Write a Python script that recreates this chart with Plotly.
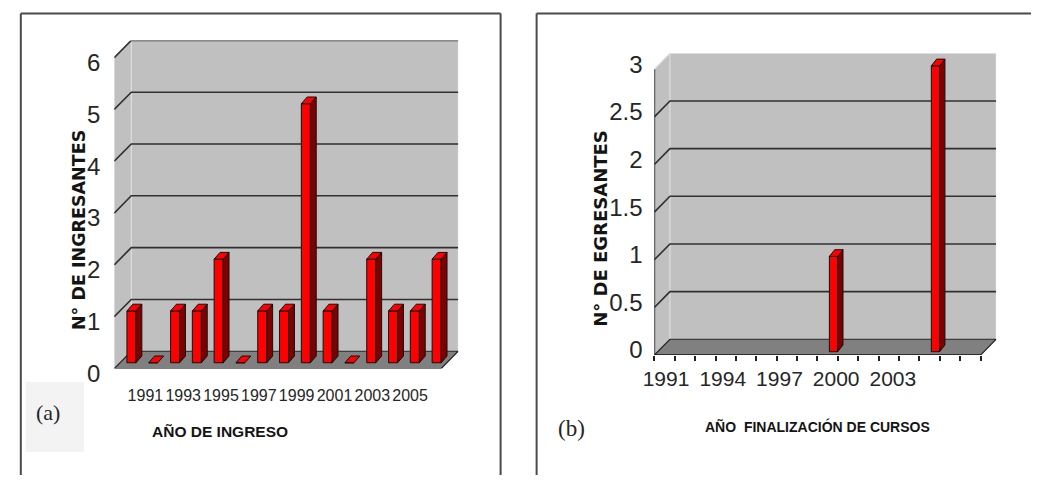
import plotly.graph_objects as go

# ---------------- data ----------------
anios_ingreso = [1991, 1992, 1993, 1994, 1995, 1996, 1997, 1998, 1999, 2000,
                 2001, 2002, 2003, 2004, 2005]
ingresantes = [1, 0, 1, 1, 2, 0, 1, 1, 5, 1, 0, 2, 1, 1, 2]
etiquetas_ingreso = [1991, 1993, 1995, 1997, 1999, 2001, 2003, 2005]
ticks_y_ingreso = [0, 1, 2, 3, 4, 5, 6]
ticktext_y_ingreso = ["0", "1", "2", "3", "4", "5", "6"]

anios_egreso = [1991, 1992, 1993, 1994, 1995, 1996, 1997, 1998, 1999, 2000,
                2001, 2002, 2003, 2004, 2005, 2006]
egresantes = [None, None, None, None, None, None, None, None, 1, None,
              None, None, None, 3, None, None]
etiquetas_egreso = [1991, 1994, 1997, 2000, 2003]
ticks_y_egreso = [0, 0.5, 1, 1.5, 2, 2.5, 3]
ticktext_y_egreso = ["0", "0.5", "1", "1.5", "2", "2.5", "3"]

# ---------------- layout geometry (pixels) ----------------
W, H = 1045, 493
SANS = "Liberation Sans, Arial, sans-serif"
BOLDW = "DejaVu Sans, Verdana, sans-serif"
SERIF = "Liberation Serif, Times New Roman, serif"
WALL = "#c0c0c0"
FLOOR = "#808080"
GRID = "#303030"
RED = "#ff0000"
DARKRED = "#800000"


def fx(px):
    return px / W


def fy(py):
    return (H - py) / H


panels = [
    dict(xa="x", ya="y", lab="x3", years=anios_ingreso, vals=ingresantes,
         yt=ticks_y_ingreso, ytt=ticktext_y_ingreso, labels=etiquetas_ingreso,
         x0=103, cat=22.4, y0=382, ppu=54.0, dwx=17.5, dwy=18.0,
         sx=6.5, sy=6.0, bw=9.3, ddx=6.0, ddy=7.0,
         lab_first=135, lab_step=19.43, lab_y=398, lab_size=16,
         ytick_size=24, yshift=5, ystand=8, top_grid=True, axisline=False,
         xticks=False),
    dict(xa="x2", ya="y2", lab="x4", years=anios_egreso, vals=egresantes,
         yt=ticks_y_egreso, ytt=ticktext_y_egreso, labels=etiquetas_egreso,
         x0=658, cat=20.95, y0=368, ppu=99.33, dwx=16.0, dwy=16.5,
         sx=6.0, sy=3.5, bw=8.5, ddx=5.5, ddy=7.0,
         lab_first=670, lab_step=19.42, lab_y=377, lab_size=21,
         ytick_size=24, yshift=-5, ystand=6, top_grid=False, axisline=True,
         xticks=True),
]

fig = go.Figure()
shapes = []
layout_axes = {}

for p in panels:
    n = len(p["years"])
    cat, ppu = p["cat"], p["ppu"]
    xs = p["years"][0] - 0.5
    xe = xs + n
    dxw = p["dwx"] / cat
    dyw = p["dwy"] / ppu
    ytop = max(p["yt"])
    xref, yref = p["xa"], p["ya"]

    # axes
    xdom = [fx(p["x0"]), fx(p["x0"] + n * cat + p["dwx"])]
    ydom = [fy(p["y0"]), fy(p["y0"] - (ytop + dyw) * ppu)]
    xkey = "xaxis" if xref == "x" else "xaxis" + xref[1:]
    ykey = "yaxis" if yref == "y" else "yaxis" + yref[1:]
    xax = dict(domain=xdom, range=[xs, xe + dxw], anchor=yref, showgrid=False,
               zeroline=False, showline=False, fixedrange=True)
    if p["xticks"]:
        xax.update(tickvals=[xs + k for k in range(n + 1)], ticks="outside",
                   ticklen=5, tickwidth=1.5, tickcolor="#202020",
                   showticklabels=False)
    else:
        xax.update(showticklabels=False, ticks="")
    layout_axes[xkey] = xax
    layout_axes[ykey] = dict(domain=ydom, range=[0, ytop + dyw], anchor=xref,
                             showgrid=False, zeroline=False, showline=False,
                             tickvals=p["yt"], ticktext=p["ytt"],
                             ticks="outside", ticklen=p["ystand"],
                             tickcolor="rgba(0,0,0,0)",
                             ticklabelshift=p["yshift"],
                             tickfont=dict(family=SANS, size=p["ytick_size"],
                                           color="#262626"),
                             fixedrange=True)

    # label axis (category labels as drawn by the original chart)
    labs = p["labels"]
    step = p["lab_step"]
    l0 = p["lab_first"] - 0.5 * step
    l1 = p["lab_first"] + (labs[-1] - labs[0] + 0.5) * step
    lkey = "xaxis" + p["lab"][1:]
    layout_axes[lkey] = dict(domain=[fx(l0), fx(l1)],
                             range=[labs[0] - 0.5, labs[-1] + 0.5],
                             anchor="free", position=fy(p["lab_y"]),
                             tickvals=labs, ticktext=[str(v) for v in labs],
                             tickangle=0, ticks="", showgrid=False,
                             zeroline=False, showline=False, fixedrange=True,
                             tickfont=dict(family=SANS, size=p["lab_size"],
                                           color="#262626"))
    fig.add_trace(go.Scatter(x=labs, y=[0] * len(labs), xaxis=p["lab"],
                             yaxis=yref, mode="markers",
                             marker=dict(opacity=0), hoverinfo="skip",
                             showlegend=False))

    # walls
    def sh(path, fill, lc, lw):
        shapes.append(dict(type="path", path=path, xref=xref, yref=yref,
                           fillcolor=fill, line=dict(color=lc, width=lw),
                           layer="below"))

    sh(f"M{xs},0 L{xs+dxw},{dyw} L{xs+dxw},{ytop+dyw} L{xs},{ytop} Z",
       WALL, "rgba(0,0,0,0)", 0)
    sh(f"M{xs+dxw},{dyw} L{xe+dxw},{dyw} L{xe+dxw},{ytop+dyw} L{xs+dxw},{ytop+dyw} Z",
       WALL, "#e2e2e2", 1)
    for v in p["yt"]:
        if v == 0:
            continue
        if v == ytop and not p["top_grid"]:
            col, lw = "#dcdcdc", 1.2
        else:
            col, lw = GRID, 1.6
        sh(f"M{xs},{v} L{xs+dxw},{v+dyw} L{xe+dxw},{v+dyw}", None, col, lw)
    sh(f"M{xs},0 L{xe},0 L{xe+dxw},{dyw} L{xs+dxw},{dyw} Z", FLOOR,
       "#202020", 1.2)
    if p["axisline"]:
        shapes.append(dict(type="line", xref=xref, yref=yref, x0=xs, x1=xs,
                           y0=0, y1=ytop, line=dict(color="#202020", width=1.6)))
        shapes.append(dict(type="line", xref=xref, yref=yref, x0=xs, x1=xe,
                           y0=0, y1=0, line=dict(color="#202020", width=1.8)))

    # bars
    bw = p["bw"] / cat
    sx = p["sx"] / cat
    sy = p["sy"] / ppu
    ddx = p["ddx"] / cat
    ddy = p["ddy"] / ppu
    bx, by = [], []
    sxs, sys_, txs, tys = [], [], [], []
    for yr, v in zip(p["years"], p["vals"]):
        if v is None:
            continue
        bx.append(yr)
        by.append(v)
        xl = yr + sx - bw / 2
        xr = yr + sx + bw / 2
        b0 = sy
        b1 = sy + v
        if v > 0:
            sxs += [xr, xr + ddx, xr + ddx, xr, xr, None]
            sys_ += [b0, b0 + ddy, b1 + ddy, b1, b0, None]
        txs += [xl, xr, xr + ddx, xl + ddx, xl, None]
        tys += [b1, b1, b1 + ddy, b1 + ddy, b1, None]
    fig.add_trace(go.Bar(x=bx, y=by, base=sy, width=bw, offset=sx - bw / 2,
                         xaxis=xref, yaxis=yref,
                         marker=dict(color=RED, line=dict(color="#101010",
                                                          width=1)),
                         hoverinfo="x+y", showlegend=False))
    fig.add_trace(go.Scatter(x=sxs, y=sys_, xaxis=xref, yaxis=yref,
                             mode="lines", fill="toself", fillcolor=DARKRED,
                             line=dict(color="#101010", width=1),
                             hoverinfo="skip", showlegend=False))
    fig.add_trace(go.Scatter(x=txs, y=tys, xaxis=xref, yaxis=yref,
                             mode="lines", fill="toself", fillcolor=RED,
                             line=dict(color="#101010", width=1),
                             hoverinfo="skip", showlegend=False))

# grey box behind (a)
shapes.append(dict(type="rect", xref="paper", yref="paper",
                   x0=fx(12), x1=fx(72), y0=fy(469), y1=fy(396),
                   fillcolor="#f3f3f3", line=dict(width=0), layer="below"))
# panel frames (kept inside the canvas)
FRAME = dict(color="#4a4a4a", width=2)
frame_lines = [
    (7, 12, 7, H), (7, 12, 500, 12), (500, 12, 500, H),     # panel (a)
    (537, 12, 537, H), (537, 12, W, 12),                      # panel (b)
]
for (a0, b0, a1, b1) in frame_lines:
    shapes.append(dict(type="line", xref="paper", yref="paper",
                       x0=fx(a0), y0=fy(b0), x1=fx(a1), y1=fy(b1),
                       line=FRAME, layer="below"))

annotations = [
    dict(text="<b>N° DE INGRESANTES</b>", x=fx(67), y=fy(237.5), textangle=-90,
         font=dict(family=BOLDW, size=17.5, color="#141414")),
    dict(text="<b>N° DE EGRESANTES</b>", x=fx(602.5), y=fy(236), textangle=-90,
         font=dict(family=BOLDW, size=18, color="#141414")),
    dict(text="<b>AÑO DE INGRESO</b>", x=fx(211.5), y=fy(448),
         font=dict(family=SANS, size=15.5, color="#141414")),
    dict(text="<b>AÑO\u00a0 FINALIZACIÓN DE CURSOS</b>", x=fx(825.5), y=fy(442),
         font=dict(family=SANS, size=14, color="#141414")),
    dict(text="(a)", x=fx(34.5), y=fy(428),
         font=dict(family=SERIF, size=22, color="#262626")),
    dict(text="(b)", x=fx(573), y=fy(445),
         font=dict(family=SERIF, size=23, color="#262626")),
]
for a in annotations:
    a.update(xref="paper", yref="paper", showarrow=False,
             xanchor="center", yanchor="middle")

fig.update_layout(width=W, height=H, margin=dict(l=0, r=0, t=0, b=0),
                  paper_bgcolor="white", plot_bgcolor="rgba(0,0,0,0)",
                  showlegend=False, shapes=shapes, annotations=annotations,
                  barmode="overlay", **layout_axes)

page_fix = (
    "var d=document,h=d.documentElement,b=d.body;"
    "[h,b].forEach(function(e){e.style.margin='0';e.style.padding='0';"
    "e.style.overflow='hidden';});"
)
fig.write_html("out.html", config={"displayModeBar": False},
               post_script=page_fix)
